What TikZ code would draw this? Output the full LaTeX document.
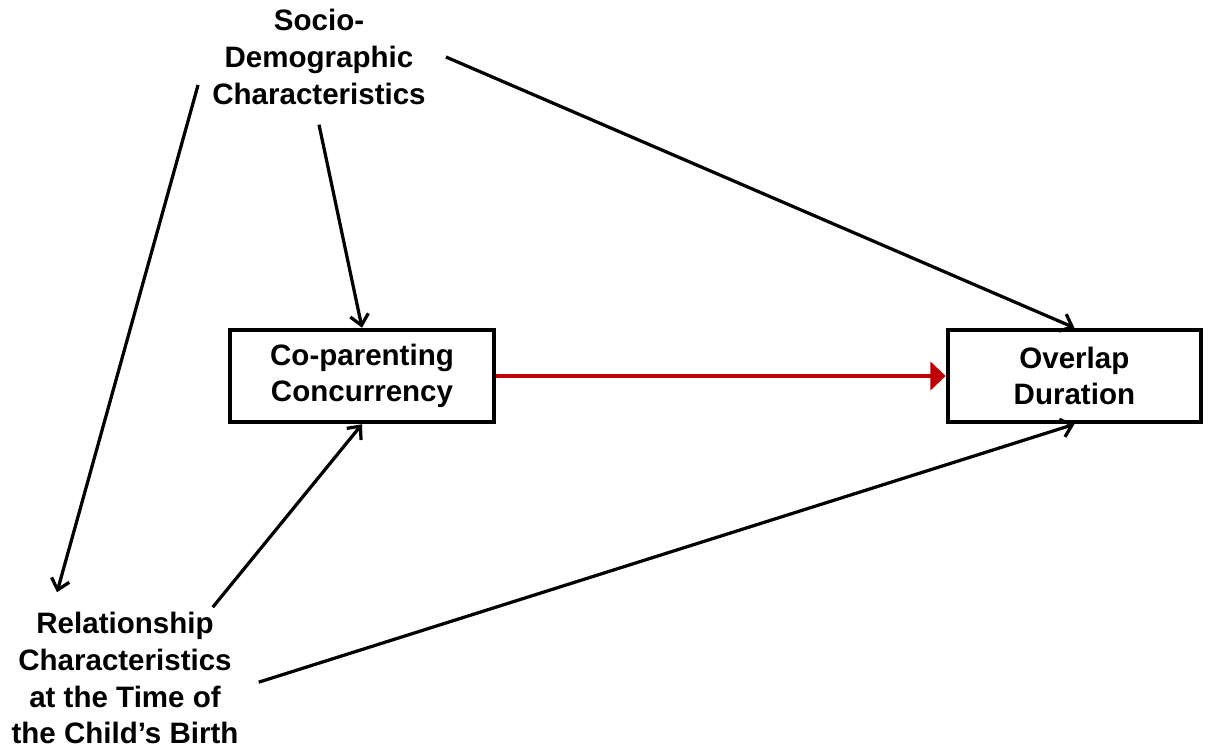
\documentclass[tikz,border=0pt]{standalone}
\usepackage{fontspec}
\setmainfont{Liberation Sans}
\usetikzlibrary{positioning}
\usetikzlibrary{arrows.meta}
\definecolor{darkred}{RGB}{192,0,0}
\tikzset{
    boxnode/.style = {rectangle, line width=3.2pt, draw=black, align=center, minimum width=6.6cm, minimum height=2.3cm, inner sep=0pt},
    txtnode/.style = {align=center, inner sep=0.5cm},
    edgen/.style = {-{Straight Barb[length=2.6mm,width=4.6mm]}, line width=2.3pt},
    edger/.style = {-{Triangle[length=3.8mm,width=7mm]}, line width=2.8pt, darkred},
}

\begin{document}
\begin{tikzpicture}[font=\fontsize{21}{26}\selectfont\bfseries]
\useasboundingbox (0,0) rectangle (30.225,18.775);
\node[txtnode] at (7.975, 17.35) (socio) {Socio-\\Demographic\\Characteristics};
\node[boxnode] at (9.05, 9.375) (copar) {Co-parenting\\Concurrency};
\node[boxnode, minimum width=6.325cm] at (26.86, 9.375) (overlap) {Overlap\\Duration};
\node[txtnode] at (3.125, 1.82) (relat) {Relationship\\Characteristics\\at the Time of\\the Child's Birth};
%
\draw[edgen] (socio.east) -- (overlap.north);
\draw[edgen] (socio.south) -- (copar.north);
\draw[edgen] ([shift={(0.15,-0.7)}]socio.west) -- ([xshift=-1.7cm]relat.north);
\draw[edgen] ([shift={(-1.15,-0.375)}]relat.north east) -- (copar.south);
\draw[edgen] ([yshift=-0.1cm]relat.east) -- (overlap.south);
\draw[edger] (copar.east) -- (overlap.west);

\end{tikzpicture}
\end{document}
